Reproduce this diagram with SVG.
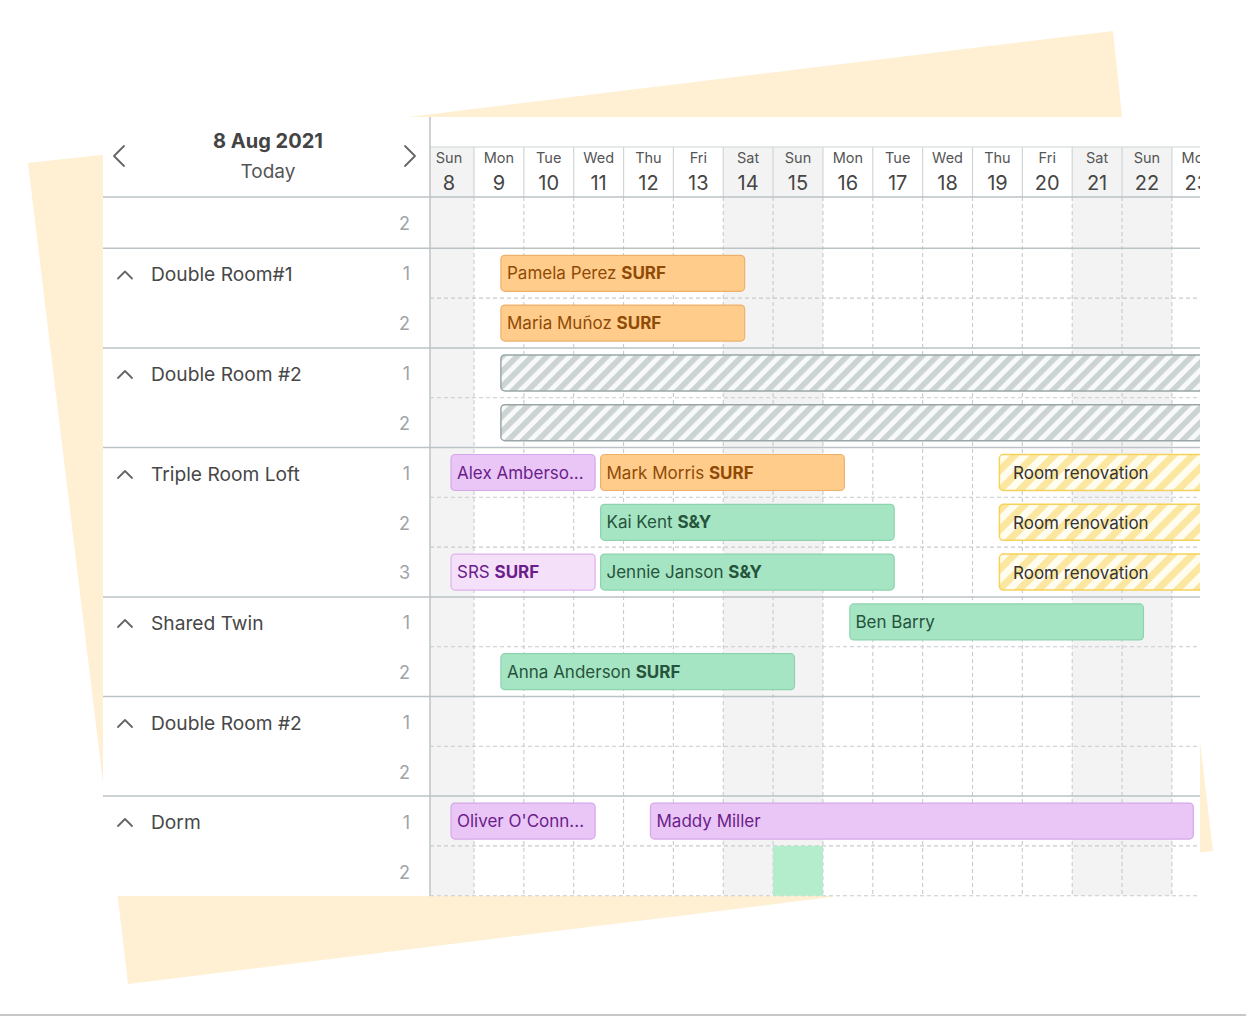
<svg xmlns="http://www.w3.org/2000/svg" width="1246" height="1016" viewBox="0 0 1246 1016">
<style>
.bg{fill:#fff0d4}
.sol{stroke:#bcc3c6;stroke-width:1.5;fill:none}
.hsep{stroke:#d0d6d8;stroke-width:1.2;fill:none}
.dash{stroke:#c6ccce;stroke-width:1.1;stroke-dasharray:4 3;fill:none}
.wk{fill:#f3f3f3}
.dn{font-family:Inter,"Liberation Sans",sans-serif;font-size:14.5px;fill:#555;text-anchor:middle}
.dd{font-family:Inter,"Liberation Sans",sans-serif;font-size:20px;fill:#454545;text-anchor:middle}
.grp{font-family:Inter,"Liberation Sans",sans-serif;font-size:19.2px;fill:#474747}
.num{font-family:Inter,"Liberation Sans",sans-serif;font-size:18px;fill:#9ea4a7;text-anchor:end}
.chev{stroke:#666;stroke-width:1.8;fill:none;stroke-linecap:round;stroke-linejoin:round}
.bt{font-family:Inter,"Liberation Sans",sans-serif;font-size:17px}
.b{font-weight:bold}
.or rect{fill:#ffcc8c;stroke:#efb06c;stroke-width:1.2}
.or text{fill:#8f4a05}
.pu rect{fill:#e9c6f6;stroke:#d6a6ea;stroke-width:1.2}
.pu text{fill:#6b1d8c}
.pl rect{fill:#f5e0fa;stroke:#ddb2ee;stroke-width:1.2}
.pl text{fill:#6b1d8c}
.gr rect{fill:#a6e5c3;stroke:#8dd3ae;stroke-width:1.2}
.gr text{fill:#26533b}
.gh rect{fill:url(#hatchGray);stroke:#9aa6a6;stroke-width:1.5}
.rn rect{fill:url(#hatchYel);stroke:#f6d25a;stroke-width:1.5}
.rn text{fill:#333}
</style>
<defs>
<pattern id="hatchGray" patternUnits="userSpaceOnUse" width="10.6" height="10.6" patternTransform="rotate(45)">
<rect width="10.6" height="10.6" fill="#f8f9f9"/>
<rect width="5.6" height="10.6" fill="#ccd3d3"/>
</pattern>
<pattern id="hatchYel" patternUnits="userSpaceOnUse" width="14" height="14" patternTransform="rotate(45)">
<rect width="14" height="14" fill="#fffcf0"/>
<rect width="7" height="14" fill="#fbe7a0"/>
</pattern>
<clipPath id="gridClip"><rect x="430" y="117" width="770" height="780"/></clipPath>
</defs>

<g id="background">
<polygon class="bg" points="408,117 1113,31 1122,117"/>
<polygon class="bg" points="28,163 110,154 110,300 103,783"/>
<polygon class="bg" points="117,890 840,890 832,897 128,984"/>
<polygon class="bg" points="1195,700 1213,851 1195,853"/>
<rect x="0" y="1014" width="1246" height="2" fill="#c8c8c8"/>
</g>

<g id="panel">
<rect x="103" y="117" width="1097" height="779" fill="#fff"/>
</g>

<g id="weekends">
<rect class="wk" x="430" y="147" width="44" height="748.7"/>
<rect class="wk" x="723.25" y="147" width="99.7" height="748.7"/>
<rect class="wk" x="1072.2" y="147" width="99.7" height="748.7"/>
</g>

<g id="grid-lines">
<g class="dash">
<path d="M474,197V896 M523.85,197V896 M573.7,197V896 M623.55,197V896 M673.4,197V896 M723.25,197V896 M773.1,197V896 M822.95,197V896 M872.8,197V896 M922.65,197V896 M972.5,197V896 M1022.35,197V896 M1072.2,197V896 M1122.05,197V896 M1171.9,197V896"/>
<path d="M430,298.1H1200 M430,397.7H1200 M430,497.3H1200 M430,547.1H1200 M430,646.7H1200 M430,746.3H1200 M430,845.9H1200 M430,895.7H1200"/>
</g>
<g class="hsep">
<path d="M474,147V197 M523.85,147V197 M573.7,147V197 M623.55,147V197 M673.4,147V197 M723.25,147V197 M773.1,147V197 M822.95,147V197 M872.8,147V197 M922.65,147V197 M972.5,147V197 M1022.35,147V197 M1072.2,147V197 M1122.05,147V197 M1171.9,147V197"/>
<path d="M430,147H1200"/>
</g>
<g class="sol">
<path d="M430,117V896"/>
<path d="M103,197H1200 M103,248.3H1200 M103,347.9H1200 M103,447.5H1200 M103,596.9H1200 M103,696.5H1200 M103,796.1H1200"/>
</g>
</g>

<g id="header">
<text x="268" y="148" font-family="Inter,'Liberation Sans',sans-serif" font-size="20" font-weight="bold" fill="#444" text-anchor="middle">8 Aug 2021</text>
<text x="268" y="178" font-family="Inter,'Liberation Sans',sans-serif" font-size="19" fill="#555" text-anchor="middle">Today</text>
<polyline class="chev" points="124,146 114,156 124,166"/>
<polyline class="chev" points="405,146 415,156 405,166"/>
</g>

<g id="days" clip-path="url(#gridClip)">
<text class="dn" x="449.05" y="163">Sun</text><text class="dd" x="449.05" y="190">8</text>
<text class="dn" x="498.9" y="163">Mon</text><text class="dd" x="498.9" y="190">9</text>
<text class="dn" x="548.75" y="163">Tue</text><text class="dd" x="548.75" y="190">10</text>
<text class="dn" x="598.6" y="163">Wed</text><text class="dd" x="598.6" y="190">11</text>
<text class="dn" x="648.45" y="163">Thu</text><text class="dd" x="648.45" y="190">12</text>
<text class="dn" x="698.3" y="163">Fri</text><text class="dd" x="698.3" y="190">13</text>
<text class="dn" x="748.15" y="163">Sat</text><text class="dd" x="748.15" y="190">14</text>
<text class="dn" x="798" y="163">Sun</text><text class="dd" x="798" y="190">15</text>
<text class="dn" x="847.85" y="163">Mon</text><text class="dd" x="847.85" y="190">16</text>
<text class="dn" x="897.7" y="163">Tue</text><text class="dd" x="897.7" y="190">17</text>
<text class="dn" x="947.55" y="163">Wed</text><text class="dd" x="947.55" y="190">18</text>
<text class="dn" x="997.4" y="163">Thu</text><text class="dd" x="997.4" y="190">19</text>
<text class="dn" x="1047.25" y="163">Fri</text><text class="dd" x="1047.25" y="190">20</text>
<text class="dn" x="1097.1" y="163">Sat</text><text class="dd" x="1097.1" y="190">21</text>
<text class="dn" x="1146.95" y="163">Sun</text><text class="dd" x="1146.95" y="190">22</text>
<text class="dn" x="1196.8" y="163">Mon</text><text class="dd" x="1196.8" y="190">23</text>
</g>

<g id="row-labels">
<text class="num" x="410" y="230">2</text>
<g id="grp-double1">
<polyline class="chev" points="118,278.5 125,271.5 132,278.5"/>
<text class="grp" x="151" y="281">Double Room#1</text>
<text class="num" x="410" y="280">1</text><text class="num" x="410" y="330">2</text>
</g>
<g id="grp-double2a">
<polyline class="chev" points="118,378 125,371 132,378"/>
<text class="grp" x="151" y="381">Double Room #2</text>
<text class="num" x="410" y="380">1</text><text class="num" x="410" y="430">2</text>
</g>
<g id="grp-triple">
<polyline class="chev" points="118,478 125,471 132,478"/>
<text class="grp" x="151" y="481">Triple Room Loft</text>
<text class="num" x="410" y="480">1</text><text class="num" x="410" y="530">2</text><text class="num" x="410" y="579">3</text>
</g>
<g id="grp-twin">
<polyline class="chev" points="118,627 125,620 132,627"/>
<text class="grp" x="151" y="630">Shared Twin</text>
<text class="num" x="410" y="629">1</text><text class="num" x="410" y="679">2</text>
</g>
<g id="grp-double2b">
<polyline class="chev" points="118,727 125,720 132,727"/>
<text class="grp" x="151" y="730">Double Room #2</text>
<text class="num" x="410" y="729">1</text><text class="num" x="410" y="779">2</text>
</g>
<g id="grp-dorm">
<polyline class="chev" points="118,826 125,819 132,826"/>
<text class="grp" x="151" y="829">Dorm</text>
<text class="num" x="410" y="829">1</text><text class="num" x="410" y="879">2</text>
</g>
</g>

<g id="bookings" clip-path="url(#gridClip)">
<rect x="773.1" y="845.9" width="49.85" height="49.8" fill="#b4edcc"/>
<g id="b-pamela" class="or"><rect x="500.9" y="255.3" width="243.75" height="36" rx="4"/><text class="bt" x="507" y="279.3">Pamela Perez <tspan class="b">SURF</tspan></text></g>
<g id="b-maria" class="or"><rect x="500.9" y="305.1" width="243.75" height="36" rx="4"/><text class="bt" x="507" y="329.1">Maria Muñoz <tspan class="b">SURF</tspan></text></g>
<g id="b-block1" class="gh"><rect x="500.9" y="354.9" width="760" height="36" rx="4"/></g>
<g id="b-block2" class="gh"><rect x="500.9" y="404.7" width="760" height="36" rx="4"/></g>
<g id="b-alex" class="pu"><rect x="451.05" y="454.5" width="144.05" height="36" rx="4"/><text class="bt" x="457" y="478.5">Alex Amberso...</text></g>
<g id="b-mark" class="or"><rect x="600.6" y="454.5" width="243.75" height="36" rx="4"/><text class="bt" x="606.5" y="478.5">Mark Morris <tspan class="b">SURF</tspan></text></g>
<g id="b-reno1" class="rn"><rect x="999.4" y="454.5" width="300" height="36" rx="4"/><text class="bt" x="1013" y="479">Room renovation</text></g>
<g id="b-kai" class="gr"><rect x="600.6" y="504.3" width="293.6" height="36" rx="4"/><text class="bt" x="606.5" y="528.3">Kai Kent <tspan class="b">S&amp;Y</tspan></text></g>
<g id="b-reno2" class="rn"><rect x="999.4" y="504.3" width="300" height="36" rx="4"/><text class="bt" x="1013" y="528.8">Room renovation</text></g>
<g id="b-srs" class="pl"><rect x="451.05" y="554.1" width="144.05" height="36" rx="4"/><text class="bt" x="457" y="578.1">SRS <tspan class="b">SURF</tspan></text></g>
<g id="b-jennie" class="gr"><rect x="600.6" y="554.1" width="293.6" height="36" rx="4"/><text class="bt" x="606.5" y="578.1">Jennie Janson <tspan class="b">S&amp;Y</tspan></text></g>
<g id="b-reno3" class="rn"><rect x="999.4" y="554.1" width="300" height="36" rx="4"/><text class="bt" x="1013" y="578.6">Room renovation</text></g>
<g id="b-ben" class="gr"><rect x="849.85" y="603.9" width="293.6" height="36" rx="4"/><text class="bt" x="855.5" y="627.9">Ben Barry</text></g>
<g id="b-anna" class="gr"><rect x="500.9" y="653.7" width="293.6" height="36" rx="4"/><text class="bt" x="507" y="677.7">Anna Anderson <tspan class="b">SURF</tspan></text></g>
<g id="b-oliver" class="pu"><rect x="451.05" y="803.1" width="144.05" height="36" rx="4"/><text class="bt" x="457" y="827.1">Oliver O'Conn...</text></g>
<g id="b-maddy" class="pu"><rect x="650.45" y="803.1" width="542.85" height="36" rx="4"/><text class="bt" x="656.5" y="827.1">Maddy Miller</text></g>
</g>
</svg>
